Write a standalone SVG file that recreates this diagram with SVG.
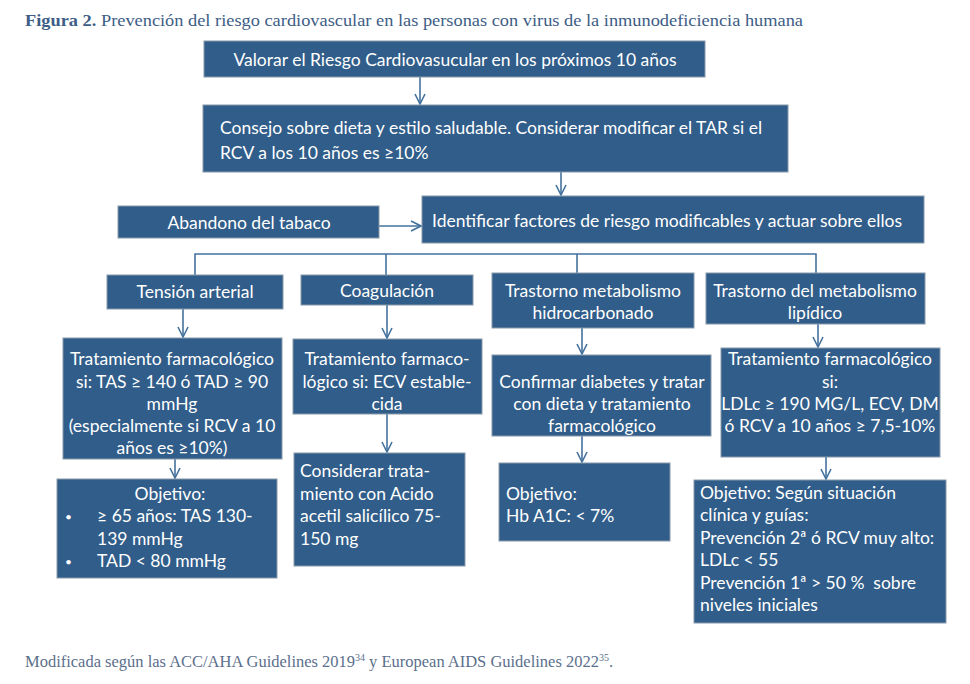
<svg xmlns="http://www.w3.org/2000/svg" width="970" height="684" viewBox="0 0 970 684">
<defs>
<marker id="ah" viewBox="0 0 12 12" refX="11" refY="6" markerWidth="12" markerHeight="12" markerUnits="userSpaceOnUse" orient="auto">
<path d="M1,1 L11,6 L1,11" fill="none" stroke="#44729e" stroke-width="1.6"/>
</marker>
<style>
.bx{fill:#305d89;stroke:#8899aa;stroke-width:1}
.t{font-family:Lato,"Open Sans","Liberation Sans",sans-serif;font-size:17.5px;fill:#ffffff}
.b{font-size:12px}
.c{text-anchor:middle}
.ln{fill:none;stroke:#44729e;stroke-width:1.6}
.ttl{font-family:"Liberation Serif","DejaVu Serif",serif;font-size:17.5px;fill:#3d5d86}
.ft{font-family:"Liberation Serif","DejaVu Serif",serif;font-size:16.5px;fill:#5b6f8c}
</style>
</defs>
<rect width="970" height="684" fill="#ffffff"/>
<text class="ttl" x="25" y="26" textLength="778" lengthAdjust="spacingAndGlyphs"><tspan font-weight="bold">Figura 2.</tspan> Prevención del riesgo cardiovascular en las personas con virus de la inmunodeficiencia humana</text>

<g id="connectors">
<line class="ln" x1="420" y1="77" x2="420" y2="104" marker-end="url(#ah)"/>
<line class="ln" x1="561" y1="172" x2="561" y2="195" marker-end="url(#ah)"/>
<line class="ln" x1="379" y1="226" x2="421" y2="226" marker-end="url(#ah)"/>
<polyline class="ln" points="195,275 195,254 816,254 816,273"/>
<line class="ln" x1="386" y1="254" x2="386" y2="275"/>
<line class="ln" x1="577" y1="254" x2="577" y2="273"/>
<line class="ln" x1="183" y1="309" x2="183" y2="337" marker-end="url(#ah)"/>
<line class="ln" x1="387" y1="305" x2="387" y2="338" marker-end="url(#ah)"/>
<line class="ln" x1="582" y1="328" x2="582" y2="354" marker-end="url(#ah)"/>
<line class="ln" x1="818" y1="324" x2="818" y2="347" marker-end="url(#ah)"/>
<line class="ln" x1="175" y1="459" x2="175" y2="478" marker-end="url(#ah)"/>
<line class="ln" x1="387" y1="414" x2="387" y2="452" marker-end="url(#ah)"/>
<line class="ln" x1="582" y1="436" x2="582" y2="462" marker-end="url(#ah)"/>
<line class="ln" x1="826" y1="457" x2="826" y2="479" marker-end="url(#ah)"/>
</g>

<g id="n_valorar">
<rect class="bx" x="204" y="41" width="501" height="36"/>
<text class="t c" x="455" y="66">Valorar el Riesgo Cardiovasucular en los próximos 10 años</text>
</g>
<g id="n_consejo">
<rect class="bx" x="203" y="105" width="585" height="67"/>
<text class="t" x="220" y="134">Consejo sobre dieta y estilo saludable. Considerar modificar el TAR si el</text>
<text class="t" x="220" y="159">RCV a los 10 años es ≥10%</text>
</g>
<g id="n_abandono">
<rect class="bx" x="118" y="206" width="261" height="32"/>
<text class="t c" x="249" y="229">Abandono del tabaco</text>
</g>
<g id="n_identificar">
<rect class="bx" x="422" y="196" width="502" height="47"/>
<text class="t" x="432" y="227">Identificar factores de riesgo modificables y actuar sobre ellos</text>
</g>

<g id="n_tension">
<rect class="bx" x="107" y="275" width="176" height="34"/>
<text class="t c" x="195" y="298">Tensión arterial</text>
</g>
<g id="n_coag">
<rect class="bx" x="301" y="275" width="172" height="30"/>
<text class="t c" x="387" y="297">Coagulación</text>
</g>
<g id="n_hidro">
<rect class="bx" x="492" y="273" width="202" height="55"/>
<text class="t c" x="593" y="297">Trastorno metabolismo</text>
<text class="t c" x="593" y="319">hidrocarbonado</text>
</g>
<g id="n_lipid">
<rect class="bx" x="706" y="273" width="219" height="51"/>
<text class="t c" x="815" y="297">Trastorno del metabolismo</text>
<text class="t c" x="815" y="319">lipídico</text>
</g>

<g id="n_ta_trat">
<rect class="bx" x="63" y="338" width="219" height="121"/>
<text class="t c" x="172" y="365">Tratamiento farmacológico</text>
<text class="t c" x="172" y="388">si: TAS ≥ 140 ó TAD ≥ 90</text>
<text class="t c" x="172" y="410">mmHg</text>
<text class="t c" x="172" y="432">(especialmente si RCV a 10</text>
<text class="t c" x="172" y="454">años es ≥10%)</text>
</g>
<g id="n_coag_trat">
<rect class="bx" x="293" y="339" width="189" height="75"/>
<text class="t c" x="387" y="365">Tratamiento farmaco-</text>
<text class="t c" x="387" y="388">lógico si: ECV estable-</text>
<text class="t c" x="387" y="410">cida</text>
</g>
<g id="n_hidro_conf">
<rect class="bx" x="492" y="355" width="219" height="81"/>
<text class="t c" x="602" y="388">Confirmar diabetes y tratar</text>
<text class="t c" x="602" y="410">con dieta y tratamiento</text>
<text class="t c" x="602" y="432">farmacológico</text>
</g>
<g id="n_lip_trat">
<rect class="bx" x="721" y="348" width="219" height="109"/>
<text class="t c" x="830" y="365">Tratamiento farmacológico</text>
<text class="t c" x="830" y="388">si:</text>
<text class="t c" x="830" y="410">LDLc ≥ 190 MG/L, ECV, DM</text>
<text class="t c" x="830" y="432">ó RCV a 10 años ≥ 7,5-10%</text>
</g>

<g id="n_ta_obj">
<rect class="bx" x="57" y="479" width="220" height="99"/>
<text class="t c" x="170" y="500">Objetivo:</text>
<text class="t b" x="65" y="521">•</text>
<text class="t" x="97" y="522">≥ 65 años: TAS 130-</text>
<text class="t" x="97" y="545">139 mmHg</text>
<text class="t b" x="65" y="566">•</text>
<text class="t" x="97" y="567">TAD &lt; 80 mmHg</text>
</g>
<g id="n_coag_obj">
<rect class="bx" x="294" y="453" width="171" height="113"/>
<text class="t" x="300" y="477">Considerar trata-</text>
<text class="t" x="300" y="500">miento con Acido</text>
<text class="t" x="300" y="522">acetil salicílico 75-</text>
<text class="t" x="300" y="545">150 mg</text>
</g>
<g id="n_hidro_obj">
<rect class="bx" x="499" y="463" width="171" height="78"/>
<text class="t" x="506" y="500">Objetivo:</text>
<text class="t" x="506" y="522">Hb A1C: &lt; 7%</text>
</g>
<g id="n_lip_obj">
<rect class="bx" x="694" y="480" width="252" height="143"/>
<text class="t" x="700" y="499">Objetivo: Según situación</text>
<text class="t" x="700" y="521">clínica y guías:</text>
<text class="t" x="700" y="544">Prevención 2ª ó RCV muy alto:</text>
<text class="t" x="700" y="566">LDLc &lt; 55</text>
<text class="t" x="700" y="589">Prevención 1ª &gt; 50 %&#160; sobre</text>
<text class="t" x="700" y="611">niveles iniciales</text>
</g>

<text class="ft" x="25" y="667" textLength="588" lengthAdjust="spacingAndGlyphs">Modificada según las ACC/AHA Guidelines 2019<tspan font-size="10" dy="-6">34</tspan><tspan dy="6"> y European AIDS Guidelines 2022</tspan><tspan font-size="10" dy="-6">35</tspan><tspan dy="6">.</tspan></text>
</svg>
